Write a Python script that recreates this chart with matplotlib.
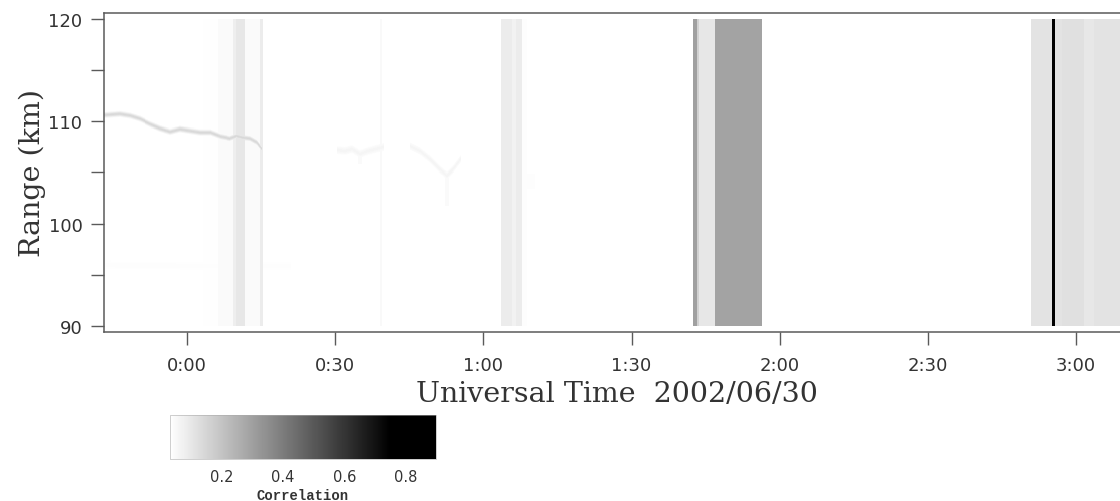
import numpy as np
import matplotlib
matplotlib.use("Agg")
import matplotlib.pyplot as plt
from matplotlib.colors import LinearSegmentedColormap

# time in minutes after 0:00 UT, range in km
t_lim = (-16.8, 190.7)
r_lim = (90.0, 120.0)
background = 0.02

# full-height stripes: start (min), end (min), correlation
stripe_t0 = [3.2, 6.1, 9.3, 9.9, 11.7, 14.8, 29.5, 39.0,
             63.5, 65.8, 66.6, 67.8,
             102.3, 103.2, 103.5, 106.8,
             170.7, 175.1, 175.7, 177.2, 181.6, 183.6]
stripe_t1 = [6.1, 9.3, 9.9, 11.7, 14.8, 15.4, 39.0, 39.4,
             65.8, 66.6, 67.8, 68.8,
             103.2, 103.5, 106.8, 116.4,
             175.1, 175.7, 177.2, 181.6, 183.6, 190.7]
stripe_c = [0.035, 0.045, 0.08, 0.10, 0.045, 0.085, 0.033, 0.05,
            0.085, 0.07, 0.085, 0.04,
            0.30, 0.16, 0.10, 0.29,
            0.11, 0.90, 0.11, 0.12, 0.10, 0.11]

# echo traces: time points, range points, peak correlation, profile width (km)
trace1_t = [-16.8, -16.3, -13.6, -11.5, -9.5, -7.5, -5.5, -3.4, -1.4, 0.6, 2.6,
            4.7, 6.7, 8.7, 10.1, 11.3, 12.8, 14.2, 15.2]
trace1_r = [110.6, 110.62, 110.72, 110.55, 110.23, 109.74, 109.32, 108.99, 109.25,
            109.09, 108.93, 108.93, 108.54, 108.34, 108.6, 108.44, 108.34, 107.95, 107.3]
trace2_t = [-16.8, 0.0, 10.0, 20.9]
trace2_r = [96.0, 95.9, 95.9, 95.9]
trace3_t = [30.4, 32.0, 33.4, 35.0, 36.6, 38.1, 39.7]
trace3_r = [107.2, 107.1, 107.3, 106.8, 107.1, 107.3, 107.5]
trace4_t = [45.2, 47.2, 49.2, 51.2, 52.6, 53.8, 55.3]
trace4_r = [107.6, 107.1, 106.3, 105.3, 104.7, 105.3, 106.3]
traces = [(trace1_t, trace1_r, 0.14, 0.17),
          (trace2_t, trace2_r, 0.04, 0.4),
          (trace3_t, trace3_r, 0.06, 0.3),
          (trace4_t, trace4_r, 0.06, 0.28)]

# small faint patches: t0, t1, r0, r1, correlation
patch_t0 = [52.2, 68.4, 34.6]
patch_t1 = [53.0, 70.4, 35.4]
patch_r0 = [101.7, 103.4, 105.8]
patch_r1 = [104.5, 104.9, 107.0]
patch_c = [0.045, 0.04, 0.045]

# build grid
t_edges = np.arange(t_lim[0], t_lim[1] + 0.1, 0.2)
r_edges = np.arange(r_lim[0], r_lim[1] + 0.05, 0.1)
tc = 0.5 * (t_edges[1:] + t_edges[:-1])
rc = 0.5 * (r_edges[1:] + r_edges[:-1])
corr = np.full((rc.size, tc.size), background)

for t0, t1, c in zip(stripe_t0, stripe_t1, stripe_c):
    cols = (tc >= t0) & (tc < t1)
    corr[:, cols] = np.maximum(corr[:, cols], c)

for tt, rr, c, w in traces:
    cols = np.where((tc >= tt[0]) & (tc <= tt[-1]))[0]
    rline = np.interp(tc[cols], tt, rr)
    for j, r0 in zip(cols, rline):
        prof = background + (c - background) * np.exp(-0.5 * ((rc - r0) / w) ** 2)
        corr[:, j] = np.maximum(corr[:, j], prof)

for t0, t1, r0, r1, c in zip(patch_t0, patch_t1, patch_r0, patch_r1, patch_c):
    cells = ((rc[:, None] >= r0) & (rc[:, None] <= r1)) & ((tc[None, :] >= t0) & (tc[None, :] <= t1))
    corr[cells] = np.maximum(corr[cells], c)

vmin, vmax = 0.03, 0.9
cmap = LinearSegmentedColormap.from_list(
    "corr", [(0.0, "white"), ((0.75 - vmin) / (vmax - vmin), "black"), (1.0, "black")])

fig = plt.figure(figsize=(11.2, 5.02), dpi=100)
ax = fig.add_axes([104 / 1120, (502 - 333) / 502, (1129 - 104) / 1120, (333 - 14) / 502])
mesh = ax.pcolormesh(t_edges, r_edges, corr, cmap=cmap, vmin=vmin, vmax=vmax,
                     shading="flat", rasterized=True)

ax.set_xlim(t_lim[0], 190.7)
ax.set_ylim(89.41, 120.59)

xticks = [0, 30, 60, 90, 120, 150, 180]
xticklabels = ["0:00", "0:30", "1:00", "1:30", "2:00", "2:30", "3:00"]
yticks = [90, 95, 100, 105, 110, 115, 120]
yticklabels = ["90", "", "100", "", "110", "", "120"]
ax.set_xticks(xticks)
ax.set_xticklabels(xticklabels)
ax.set_yticks(yticks)
ax.set_yticklabels(yticklabels)

for s in ax.spines.values():
    s.set_color("#5a5a5a")
    s.set_linewidth(1.1)
ax.tick_params(direction="out", length=9.5, width=1.0, color="#5a5a5a", pad=6,
               labelsize=13, labelcolor="#333333", top=False, right=False)
ax.tick_params(axis="x", pad=8)

ax.set_xlabel("Universal Time  2002/06/30", fontsize=20.5, family="DejaVu Serif",
              color="#333333", labelpad=4)
ax.set_ylabel("Range (km)", fontsize=20.5, family="DejaVu Serif", color="#333333", labelpad=2)

cax = fig.add_axes([170 / 1120, (502 - 460) / 502, 266 / 1120, 44 / 502])
cb = fig.colorbar(mesh, cax=cax, orientation="horizontal", ticks=[0.2, 0.4, 0.6, 0.8])
cb.ax.tick_params(length=0, labelsize=10.5, pad=7, labelcolor="#333333")
cb.outline.set_edgecolor("#aaaaaa")
cb.outline.set_linewidth(0.4)
cb.set_label("Correlation", fontsize=10, family="Liberation Mono", weight="bold",
             color="#333333", labelpad=3)

fig.savefig("out.png", dpi=100)
